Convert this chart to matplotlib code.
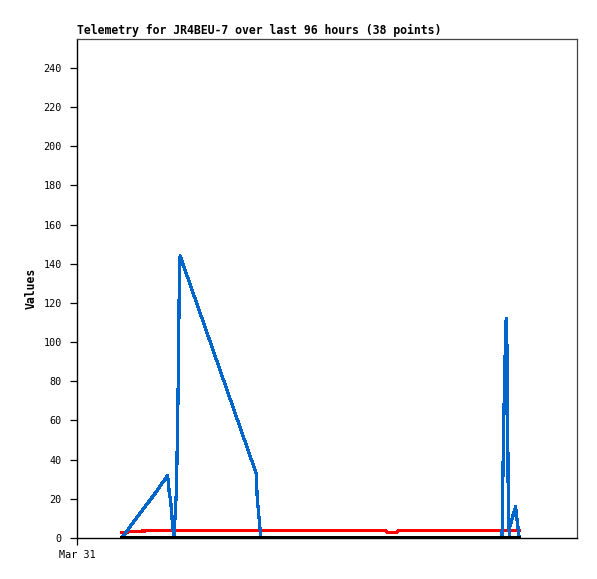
import matplotlib
matplotlib.use("Agg")
import matplotlib.pyplot as plt

# hours since the start of the 96 h window (left edge = Mar 31)
hours = [8.6, 10.7, 15.2, 17.4, 17.7, 18.0, 18.3, 18.6, 19.1, 19.4,
         19.6, 19.8, 31.9, 34.4, 34.6, 34.9, 35.3, 40.0, 47.0, 53.0,
         59.1, 59.6, 61.3, 61.8, 66.0, 72.0, 81.6, 81.7, 81.9, 82.2,
         82.4, 82.6, 82.7, 82.8, 83.0, 83.1, 84.2, 84.9]
blue_vals = [0, 7.6, 23.5, 32, 23.6, 18.5, 8.3, 0, 24.5, 73,
             121, 144, 52, 33, 20.4, 11.7, 0, 0, 0, 0,
             0, 0, 0, 0, 0, 0, 0, 18.5, 55, 93.5,
             112, 93, 55, 18.5, 0, 5.8, 16, 0]
red_vals = [2.8, 3.3, 3.9, 3.9, 3.9, 3.9, 3.9, 3.9, 3.9, 3.9,
            3.9, 3.9, 3.9, 3.9, 3.9, 3.9, 3.9, 3.9, 3.9, 3.9,
            3.9, 2.8, 2.8, 3.9, 3.9, 3.9, 3.9, 3.9, 3.9, 3.9,
            3.9, 3.9, 3.9, 3.9, 3.9, 3.9, 3.9, 3.9]
black_vals = [0] * len(hours)

yticks = list(range(0, 241, 20))
xtick_pos = [0]
xtick_labels = ["Mar 31"]

MONO = "DejaVu Sans Mono"

fig = plt.figure(figsize=(5.97, 5.79), dpi=100)
ax = fig.add_axes([77 / 597, 41 / 579, 500 / 597, 499.5 / 579])

ax.plot(hours, red_vals, color="#ff0000", lw=1.6, zorder=2, antialiased=False)
ax.plot(hours, blue_vals, color="#0066cc", lw=1.6, zorder=3, antialiased=False)
ax.plot(hours, black_vals, color="#000000", lw=1.6, zorder=4, antialiased=False)

ax.set_xlim(0, 96)
ax.set_ylim(0, 255)
ax.set_yticks(yticks)
ax.set_yticklabels([str(v) for v in yticks], family=MONO, fontsize=7.3)
ax.set_xticks(xtick_pos)
ax.set_xticklabels(xtick_labels, family=MONO, fontsize=7.3)
ax.tick_params(axis="both", direction="out", length=5, width=0.9, color="black")
ax.tick_params(axis="y", pad=6)
ax.tick_params(axis="x", pad=4)

for side in ("left", "bottom"):
    ax.spines[side].set_color("black")
    ax.spines[side].set_linewidth(1.0)
for side in ("top", "right"):
    ax.spines[side].set_color("#444444")
    ax.spines[side].set_linewidth(0.9)

ax.set_title("Telemetry for JR4BEU-7 over last 96 hours (38 points)", loc="left",
             family=MONO, fontsize=8.3, fontweight="bold", pad=3)
ax.set_ylabel("Values", family=MONO, fontsize=8.3, fontweight="bold", labelpad=4)

fig.savefig("out.png", dpi=100)
